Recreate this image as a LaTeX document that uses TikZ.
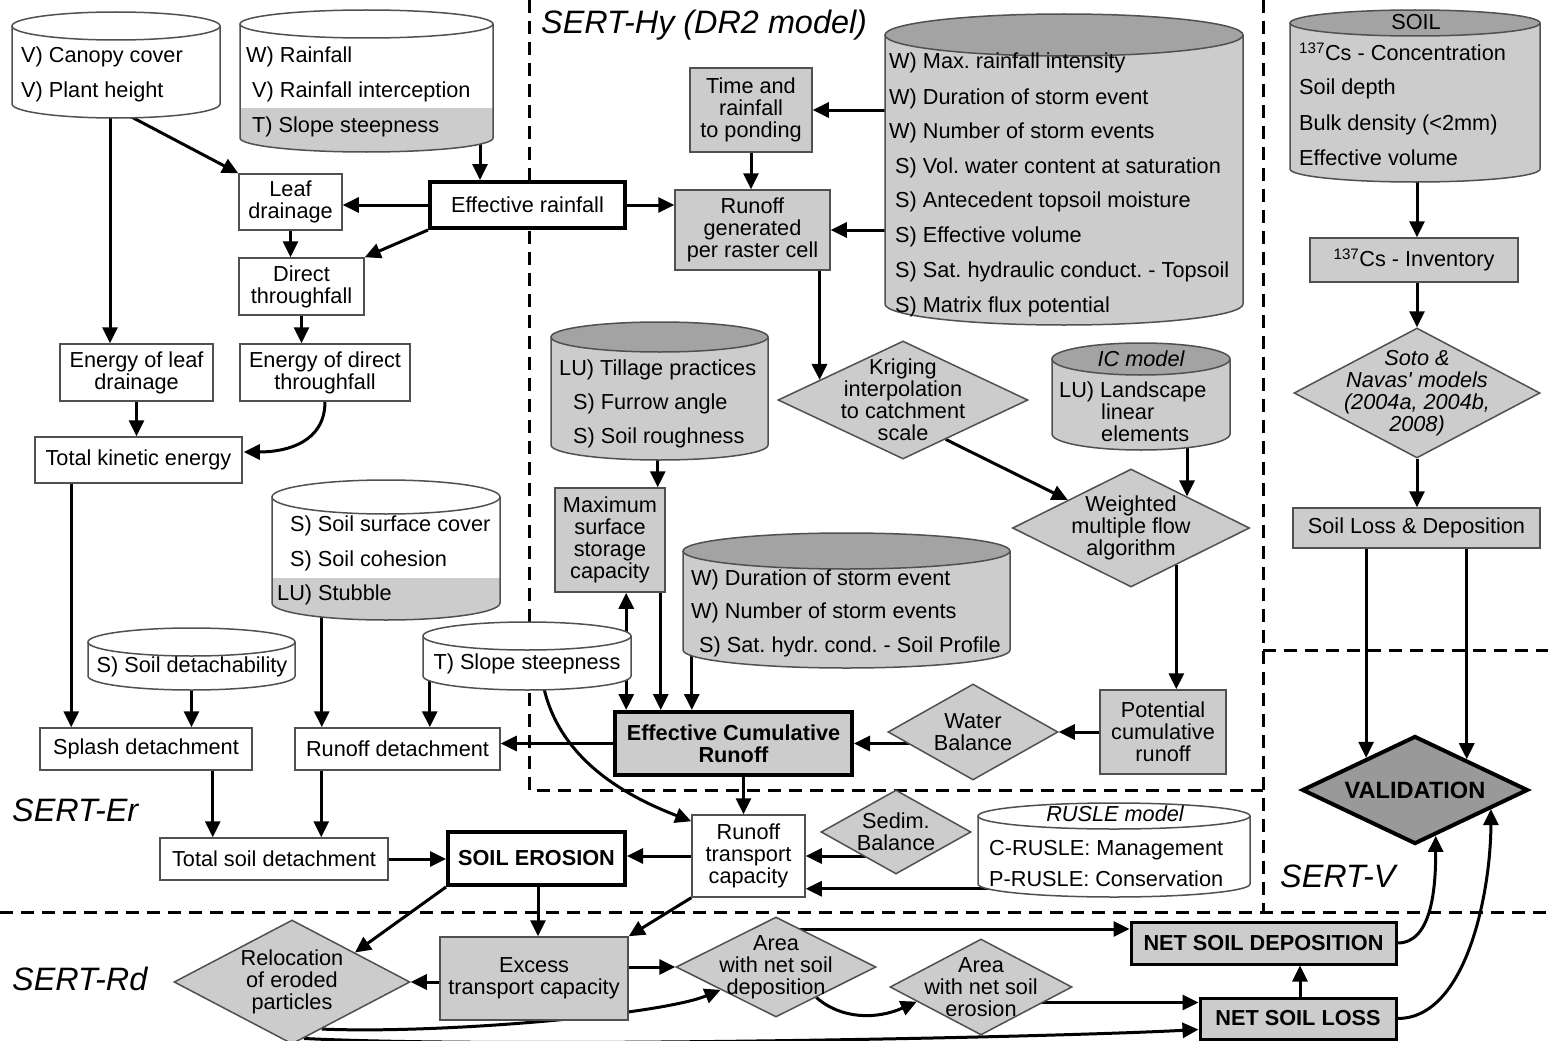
\documentclass[tikz,border=0pt]{standalone}
\usepackage{fontspec}
\setmainfont{Liberation Sans}
\usetikzlibrary{arrows.meta,shapes.geometric,calc}
\pgfdeclarelayer{bg}
\pgfdeclarelayer{bgw}
\pgfsetlayers{bgw,bg,main}
\definecolor{lgray}{HTML}{CCCCCC}
\definecolor{dgray}{HTML}{A3A3A3}
\definecolor{vgray}{HTML}{999999}
\definecolor{bcol}{HTML}{505050}
\frenchspacing

% name, x1, x2, ytop, ybot, ry, topfill, bandy, bandfill
\newcommand\mycyl[9]{%
  \node[cylbox, minimum width={(#3-#2)*1pt}, minimum height={(#5-#4)*1pt}] (#1) at ({(#2+#3)/2},{(#4+#5)/2}) {};
  \fill[white] (#2,#4+#6) -- (#2,#5-#6) arc[start angle=180,end angle=360,x radius={(#3-#2)/2*1pt},y radius={#6*1pt}] -- (#3,#4+#6) -- cycle;
  \fill[#9] (#2,#8) -- (#2,#5-#6) arc[start angle=180,end angle=360,x radius={(#3-#2)/2*1pt},y radius={#6*1pt}] -- (#3,#8) -- cycle;
  \draw[cylline, fill=#7] ({(#2+#3)/2},#4+#6) ellipse[x radius={(#3-#2)/2*1pt}, y radius={#6*1pt}];
  \draw[cylline] (#2,#4+#6) -- (#2,#5-#6) arc[start angle=180,end angle=360,x radius={(#3-#2)/2*1pt},y radius={#6*1pt}] -- (#3,#4+#6);
}
% style, name, x1, x2, y1, y2, text
\newcommand\mybx[7]{\node[#1, minimum width={(#4-#3)*1pt}, minimum height={(#6-#5)*1pt}] (#2) at ({(#3+#4)/2},{(#5+#6)/2}) {#7};}
% diastyle, textstyle, name, cx, cy, w, h, text
\newcommand\mydm[8]{\node[#1, minimum width=#6pt, minimum height=#7pt] (#3) at (#4,#5) {};
  \node[align=center,#2] (#3-t) at (#4,#5) {#8};}

\begin{document}
\begin{tikzpicture}[x=1pt,y=-1pt,
  every node/.style={font=\fontsize{21.7}{22}\selectfont, inner sep=0pt},
  wbox/.style={rectangle, draw=bcol, line width=1.5pt, fill=white, align=center},
  gbox/.style={wbox, fill=lgray},
  tkbox/.style={draw=black, line width=4pt},
  nsbox/.style={draw=black, line width=3pt},
  bfnt/.style={font=\fontsize{21.7}{22}\selectfont\bfseries},
  itfnt/.style={font=\fontsize{21.7}{22}\selectfont\itshape},
  vfnt/.style={font=\fontsize{23.6}{24}\selectfont\bfseries},
  dia/.style={diamond, draw=bcol, line width=1.5pt, fill=lgray},
  vdia/.style={diamond, draw=black, line width=4pt, fill=vgray},
  lbl/.style={anchor=west, text height=15pt, text depth=5pt},
  ctr/.style={text height=15pt, text depth=5pt},
  ttl/.style={anchor=base west, font=\fontsize{32.4}{34}\selectfont\itshape},
  arr/.style={line width=3pt, -{Triangle[length=16pt,width=15pt]}},
  sepline/.style={line width=3pt, dash pattern=on 13pt off 8pt},
  cylline/.style={draw=bcol, line width=1.5pt},
  cylbox/.style={rectangle, draw=none, inner sep=0pt},
]
\useasboundingbox (0,0) rectangle (1548,1041);
\begin{pgfonlayer}{bgw}
\fill[white] (0,0) rectangle (1548,1041);
\end{pgfonlayer}

% ---------- cylinders ----------
\mycyl{c1}{12}{220}{12}{118}{14}{white}{104}{white}
\node[lbl] (c1a) at (21,58) {V) Canopy cover};
\node[lbl] (c1b) at (21,92) {V) Plant height};

\mycyl{c2}{240}{493}{10}{152}{14}{white}{108}{lgray}
\node[lbl] (c2a) at (246,58) {W) Rainfall};
\node[lbl] (c2b) at (252,92) {V) Rainfall interception};
\node[lbl] (c2c) at (252,127) {T) Slope steepness};

\mycyl{hy}{885}{1243}{14}{325}{21}{dgray}{35}{lgray}
\node[lbl] (hya) at (889,64) {W) Max. rainfall intensity};
\node[lbl] (hyb) at (889,99) {W) Duration of storm event};
\node[lbl] (hyc) at (889,133) {W) Number of storm events};
\node[lbl] (hyd) at (895,168) {S) Vol. water content at saturation};
\node[lbl] (hye) at (895,202) {S) Antecedent topsoil moisture};
\node[lbl] (hyf) at (895,237) {S) Effective volume};
\node[lbl] (hyg) at (895,272) {S) Sat. hydraulic conduct. - Topsoil};
\node[lbl] (hyh) at (895,307) {S) Matrix flux potential};

\mycyl{soil}{1290}{1540}{10}{182}{13}{dgray}{23}{lgray}
\node[ctr] (soilt) at (1416,25) {SOIL};
\node[lbl] (soila) at (1299,56) {\textsuperscript{137}Cs - Concentration};
\node[lbl] (soilb) at (1299,90) {Soil depth};
\node[lbl] (soilc) at (1299,125) {Bulk density (<2mm)};
\node[lbl] (soild) at (1299,160) {Effective volume};

\mycyl{till}{551}{768}{322}{460}{15}{dgray}{337}{lgray}
\node[lbl] (tilla) at (559,370) {LU) Tillage practices};
\node[lbl] (tillb) at (573,404) {S) Furrow angle};
\node[lbl] (tillc) at (573,438) {S) Soil roughness};

\mycyl{ic}{1052}{1230}{343}{450}{16}{dgray}{359}{lgray}
\node[ctr,itfnt] (ict) at (1141,361) {IC model};
\node[lbl] (ica) at (1059,392) {LU) Landscape};
\node[lbl] (icb) at (1101,414) {linear};
\node[lbl] (icc) at (1101,436) {elements};

\mycyl{dur}{683}{1010}{533}{668}{18}{dgray}{551}{lgray}
\node[lbl] (dura) at (691,580) {W) Duration of storm event};
\node[lbl] (durb) at (691,613) {W) Number of storm events};
\node[lbl] (durc) at (699,647) {S) Sat. hydr. cond. - Soil Profile};

\mycyl{cover}{272}{500}{480}{620}{17}{white}{578}{lgray}
\node[lbl] (covera) at (290,526) {S) Soil surface cover};
\node[lbl] (coverb) at (290,561) {S) Soil cohesion};
\node[lbl] (coverc) at (277,595) {LU) Stubble};

\mycyl{detach}{88}{295}{628}{690}{14}{white}{676}{white}
\node[ctr] (detacht) at (192,667) {S) Soil detachability};

\mycyl{slope2}{423}{631}{622}{690}{14}{white}{676}{white}
\node[ctr] (slope2t) at (527,664) {T) Slope steepness};

\mycyl{rusle}{978}{1250}{803}{897}{13}{white}{884}{white}
\node[ctr,itfnt] (ruslet) at (1115,816) {RUSLE model};
\node[lbl] (ruslea) at (989,850) {C-RUSLE: Management};
\node[lbl] (rusleb) at (989,881) {P-RUSLE: Conservation};

% ---------- boxes ----------
\mybx{wbox}{leafd}{239}{342}{174}{230}{Leaf\\drainage}
\mybx{wbox,tkbox}{effrain}{430}{625}{182}{228}{Effective rainfall}
\mybx{wbox}{direct}{239}{364}{258}{315}{Direct\\throughfall}
\mybx{wbox}{eleaf}{60}{213}{344}{401}{Energy of leaf\\drainage}
\mybx{wbox}{edirect}{240}{410}{344}{401}{Energy of direct\\throughfall}
\mybx{wbox}{tke}{35}{242}{437}{483}{Total kinetic energy}
\mybx{gbox}{time}{690}{812}{68}{152}{Time and\\rainfall\\to ponding}
\mybx{gbox}{rgen}{675}{830}{190}{270}{Runoff\\generated\\per raster cell}
\mybx{gbox}{inv}{1310}{1518}{238}{282}{\textsuperscript{137}Cs - Inventory}
\mybx{gbox}{sld}{1293}{1540}{508}{548}{Soil Loss \& Deposition}
\mybx{gbox}{maxs}{555}{665}{488}{592}{Maximum\\surface\\storage\\capacity}
\mybx{gbox}{pot}{1100}{1226}{690}{774}{Potential\\cumulative\\runoff}
\mybx{gbox,tkbox,bfnt}{ecr}{615}{852}{712}{775}{Effective Cumulative\\Runoff}
\mybx{wbox}{splash}{40}{252}{728}{770}{Splash detachment}
\mybx{wbox}{rdet}{295}{500}{728}{770}{Runoff detachment}
\mybx{wbox}{tsd}{160}{388}{838}{880}{Total soil detachment}
\mybx{wbox,tkbox,bfnt}{seros}{448}{625}{832}{885}{SOIL EROSION}
\mybx{wbox}{rtc}{692}{805}{815}{897}{Runoff\\transport\\capacity}
\mybx{gbox}{excess}{440}{628}{937}{1020}{Excess\\transport capacity}
\mybx{gbox,nsbox,bfnt}{nsd}{1131}{1396}{922}{964}{NET SOIL DEPOSITION}
\mybx{gbox,nsbox,bfnt}{nsl}{1200}{1396}{998}{1039}{NET SOIL LOSS}

% ---------- diamonds ----------
\mydm{dia}{}{krig}{903}{400}{250}{118}{Kriging\\interpolation\\to catchment\\scale}
\mydm{dia}{}{wmf}{1131}{528}{237}{118}{Weighted\\multiple flow\\algorithm}
\mydm{dia}{itfnt}{soto}{1417}{393}{246}{130}{Soto \&\\Navas\textquotesingle\ models\\(2004a, 2004b,\\2008)}
\mydm{dia}{}{water}{973}{732}{170}{96}{Water\\Balance}
\mydm{dia}{}{sedim}{896}{832}{150}{84}{Sedim.\\Balance}
\mydm{vdia}{vfnt}{valid}{1415}{790}{226}{108}{VALIDATION}
\mydm{dia}{}{reloc}{292}{982}{236}{124}{Relocation\\of eroded\\particles}
\mydm{dia}{}{adep}{776}{967}{200}{100}{Area\\with net soil\\deposition}
\mydm{dia}{}{aero}{981}{987}{182}{96}{Area\\with net soil\\erosion}

% ---------- titles ----------
\node[ttl] (thy) at (541,34) {SERT-Hy (DR2 model)};
\node[ttl] (ter) at (12,821) {SERT-Er};
\node[ttl] (trd) at (12,990) {SERT-Rd};
\node[ttl] (tv) at (1280,887) {SERT-V};

% ---------- connectors ----------
\begin{pgfonlayer}{bg}
\draw[sepline] (529,0) -- (529,790) -- (1263,790);
\draw[sepline] (1263,0) -- (1263,912);
\draw[sepline] (0,912) -- (1548,912);
\draw[sepline] (1263,650) -- (1548,650);

\draw[arr] ($(c1.center)+(-6,0)$) coordinate (k1) -- (k1 |- eleaf.north);
\draw[arr] ($(c1.south)+(14,-2)$) -- (leafd.north west);
\draw[arr] ($(c2.center)+(113.5,0)$) coordinate (k2) -- (k2 |- effrain.north);
\draw[arr] (effrain.west) -- (effrain.west -| leafd.east);
\draw[arr] (effrain.south west) -- (direct.north east);
\draw[arr] (leafd.south) -- (leafd.south |- direct.north);
\draw[arr] (direct.south) -- (direct.south |- edirect.north);
\draw[arr] (eleaf.south) -- (eleaf.south |- tke.north);
\draw[arr] (edirect.south) .. controls ($(edirect.south)+(0,40)$) and ($(tke.east)+(45,-8)$) .. ($(tke.east)+(1,-8)$);
\draw[arr] ($(tke.south west)+(37,0)$) coordinate (k3) -- (k3 |- splash.north);

\draw[arr] (effrain.east) -- (effrain.east -| rgen.west);
\draw[arr] (hy.center |- time.east) -- (time.east);
\draw[arr] (hy.center |- rgen.east) -- (rgen.east);
\draw[arr] (time.south) -- (time.south |- rgen.north);
\coordinate (k4) at ($(krig.west)!0.336!(krig.north)$);
\draw[arr] (k4 |- rgen.south) -- (k4);
\draw[arr] ($(krig.south)!0.34!(krig.east)$) -- ($(wmf.west)!0.47!(wmf.north)$);
\coordinate (k5) at ($(wmf.north)!0.47!(wmf.east)$);
\draw[arr] (k5 |- ic.center) -- (k5);
\coordinate (k6) at ($(wmf.south)!0.38!(wmf.east)$);
\draw[arr] (k6) -- (k6 |- pot.north);
\draw[arr] (pot.west) -- (water.east);
\draw[arr] (water.center |- ecr.east) -- (ecr.east);
\draw[arr] (ecr.west) -- (ecr.west -| rdet.east);
\coordinate (k7) at ($(maxs.north east)+(-8,0)$);
\draw[arr] (k7 |- till.center) -- (k7);
\coordinate (k8) at ($(maxs.south east)+(-5,0)$);
\draw[arr] (k8) -- (k8 |- ecr.north);
\coordinate (k9) at ($(slope2.north east)+(-5,0)$);
\draw[arr] (k9 |- slope2.center) -- (k9 |- maxs.south);
\draw[arr] (k9 |- slope2.center) -- (k9 |- ecr.north);
\coordinate (k10) at ($(dur.south west)+(9,0)$);
\draw[arr] (k10 |- dur.center) -- (k10 |- ecr.north);
\coordinate (k11) at ($(slope2.south west)+(7,0)$);
\draw[arr] (k11 |- slope2.center) -- (k11 |- rdet.north);
\draw[arr] ($(slope2.center)+(13,0)$) .. controls ($(slope2.center)+(15,95)$) and ($(rtc.north west)+(-70,-20)$) .. ($(rtc.north west)+(0,7)$);
\coordinate (k12) at ($(cover.south west)+(50,0)$);
\draw[arr] (k12 |- cover.center) -- (k12 |- rdet.north);
\draw[arr] (detach.center) -- (detach.center |- splash.north);
\coordinate (k13) at ($(splash.south east)+(-40,0)$);
\draw[arr] (k13) -- (k13 |- tsd.north);
\coordinate (k14) at ($(rdet.south west)+(27,0)$);
\draw[arr] (k14) -- (k14 |- tsd.north);
\draw[arr] (tsd.east) -- (tsd.east -| seros.west);
\draw[arr] (rtc.west) -- (rtc.west -| seros.east);
\coordinate (k15) at ($(ecr.south)+(10,0)$);
\draw[arr] (k15) -- (k15 |- rtc.north);
\draw[arr] (sedim.center |- rtc.east) -- (rtc.east);
\coordinate (k16) at ($(rtc.south east)+(0,-9)$);
\draw[arr] (k16 -| rusle.center) -- (k16);

\draw[arr] (seros.south west) -- ($(reloc.north)!0.53!(reloc.east)$);
\coordinate (k17) at ($(seros.south west)+(92,0)$);
\draw[arr] (k17) -- (k17 |- excess.north);
\draw[arr] (rtc.south west) -- (excess.north east);
\draw[arr] (reloc.east -| excess.west) -- (reloc.east);
\draw[arr] (adep.west -| excess.east) -- (adep.west);
\coordinate (k18) at ($(nsd.west)+(0,-14)$);
\draw[arr] (k18 -| adep.center) -- (k18);
\draw[arr] ($(adep.south)!0.4!(adep.east)$) .. controls +(25,22) and +(-40,18) .. ($(aero.west)!0.3!(aero.south)$);
\coordinate (k19) at ($(nsl.west)+(0,-16)$);
\draw[arr] (k19 -| aero.center) -- (k19);
\draw[arr] ($(reloc.south)!0.25!(reloc.east)$) .. controls +(120,5) and +(-60,25) .. ($(adep.south)!0.55!(adep.west)$);
\draw[arr] ($(reloc.south)!0.1!(reloc.east)$) .. controls +(200,10) and +(-150,8) .. ($(nsl.west)+(0,11)$);
\coordinate (k20) at ($(nsl.north)+(2,0)$);
\draw[arr] (k20) -- (k20 |- nsd.south);
\draw[arr] (nsd.east) .. controls +(35,0) and +(0,50) .. ($(valid.south)!0.18!(valid.east)$);
\draw[arr] (nsl.east) .. controls +(70,0) and +(0,80) .. ($(valid.south)!0.66!(valid.east)$);
\coordinate (k21) at ($(valid.west)!0.575!(valid.north)$);
\draw[arr] (k21 |- sld.south) -- (k21);
\coordinate (k22) at ($(valid.north)!0.45!(valid.east)$);
\draw[arr] (k22 |- sld.south) -- (k22);
\draw[arr] (soto.north |- soil.center) -- (soto.north |- inv.north);
\draw[arr] (soto.north |- inv.south) -- (soto.north);
\draw[arr] (soto.south) -- (soto.south |- sld.north);
\end{pgfonlayer}
\end{tikzpicture}
\end{document}
